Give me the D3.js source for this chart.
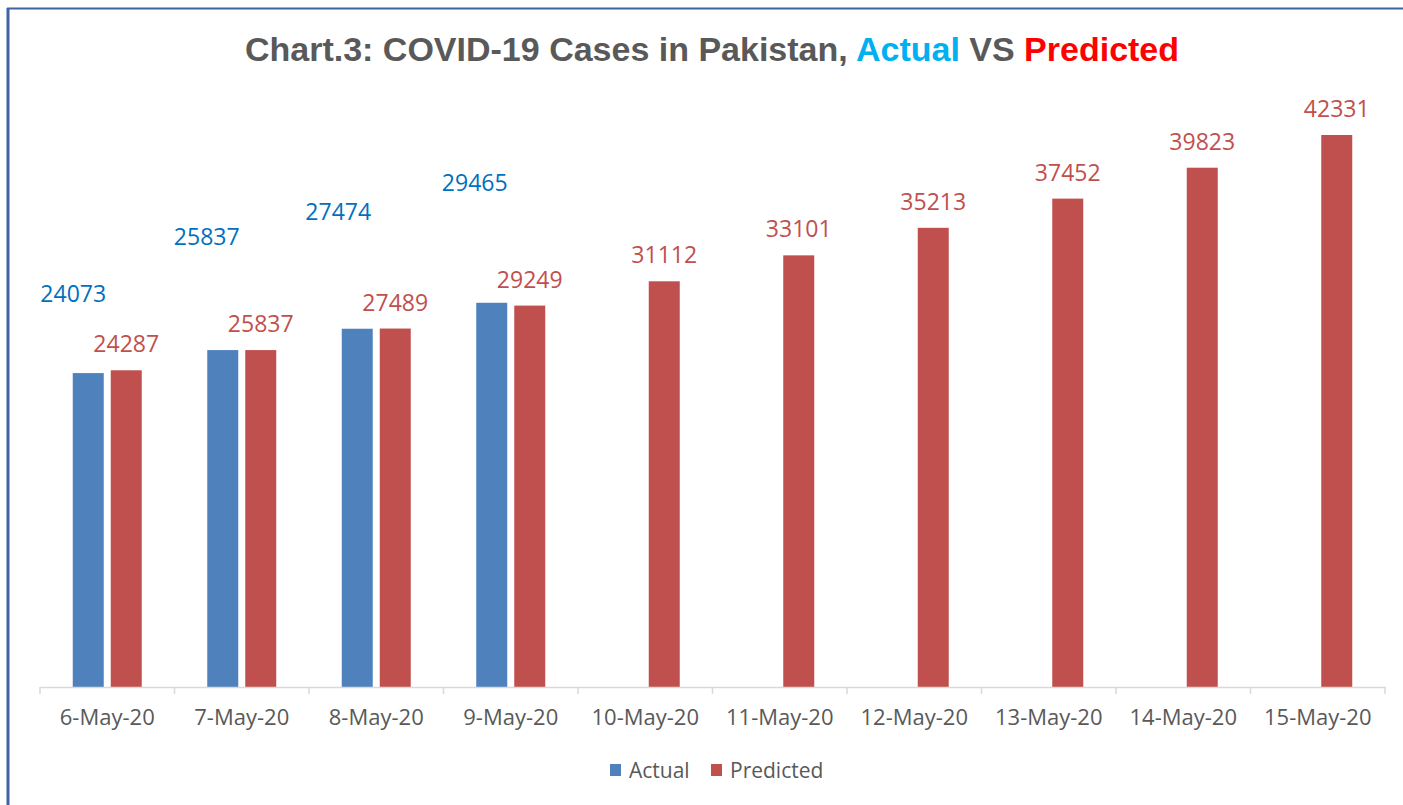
<!DOCTYPE html>
<html>
<head>
<meta charset="utf-8">
<script src="https://cdn.jsdelivr.net/npm/d3@7"></script>
<style>
  body { margin: 0; background: #fff; }
  svg { display: block; }
</style>
</head>
<body>
<script>
// data
var dates = ['6-May-20', '7-May-20', '8-May-20', '9-May-20', '10-May-20',
  '11-May-20', '12-May-20', '13-May-20', '14-May-20', '15-May-20'];
var actual = [24073, 25837, 27474, 29465, null, null, null, null, null, null];
var predicted = [24287, 25837, 27489, 29249, 31112, 33101, 35213, 37452, 39823, 42331];
var seriesNames = ['Actual', 'Predicted'];

// the actual labels were dragged around by hand in the original
var actualLabelNudge = [[-15, -53], [-16, -87], [-19, -91], [-17, -94]];

var W = 1403, H = 805;
var colors = { Actual: '#4F81BD', Predicted: '#C0504D' };
var labelColors = { Actual: '#0070C0', Predicted: '#C0504D' };
var font = '"Open Sans", sans-serif';

var svg = d3.select('body').append('svg')
  .attr('width', W).attr('height', H);

// frame
svg.append('line').attr('x1', 8).attr('x2', 8).attr('y1', 8).attr('y2', H)
  .attr('stroke', '#3F62A3').attr('stroke-width', 3);
svg.append('line').attr('x1', 7).attr('x2', W).attr('y1', 8.5).attr('y2', 8.5)
  .attr('stroke', '#3F62A3').attr('stroke-width', 2);

// title
var title = svg.append('text')
  .attr('x', 712).attr('y', 61)
  .attr('text-anchor', 'middle')
  .style('font-family', '"Liberation Sans", Arial, sans-serif')
  .style('font-weight', 'bold')
  .style('font-size', '34px')
  .attr('fill', '#595959');
title.append('tspan').text('Chart.3: COVID-19 Cases in Pakistan, ');
title.append('tspan').attr('fill', '#00B0F0').text('Actual');
title.append('tspan').text(' VS ');
title.append('tspan').attr('fill', '#FF0000').text('Predicted');

var x = d3.scaleBand().domain(dates).range([40, 1385]).paddingInner(0).paddingOuter(0);
var baseY = 687;
var y = d3.scaleLinear().domain([0, 42331]).range([baseY, 135]);

var barW = 31, barGap = 7;
var groupW = barW * 2 + barGap;
function barX(i, s) {
  return x(dates[i]) + (x.bandwidth() - groupW) / 2 + s * (barW + barGap);
}

var rows = dates.map(function(d, i) {
  return { i: i, vals: [actual[i], predicted[i]] };
});

var g = svg.append('g');
seriesNames.forEach(function(name, s) {
  var pts = rows.filter(function(r) { return r.vals[s] != null; });
  g.selectAll('.bar-' + name).data(pts).enter()
    .append('rect')
    .attr('x', function(r) { return barX(r.i, s); })
    .attr('y', function(r) { return y(r.vals[s]); })
    .attr('width', barW)
    .attr('height', function(r) { return baseY - y(r.vals[s]); })
    .attr('fill', colors[name]);

  g.selectAll('.lbl-' + name).data(pts).enter()
    .append('text')
    .attr('x', function(r) {
      var nx = s === 0 ? actualLabelNudge[r.i][0] : 0;
      return barX(r.i, s) + barW / 2 + nx;
    })
    .attr('y', function(r) {
      var ny = s === 0 ? actualLabelNudge[r.i][1] : 0;
      return y(r.vals[s]) - 18 + ny;
    })
    .attr('text-anchor', 'middle')
    .style('font-family', font)
    .style('font-size', '23px')
    .attr('fill', labelColors[name])
    .text(function(r) { return r.vals[s]; });
});

// x axis
var axis = d3.axisBottom(x).tickSize(0).tickPadding(22);
var ax = svg.append('g').attr('transform', 'translate(0,' + baseY + ')').call(axis);
ax.select('.domain').attr('stroke', '#D9D9D9').attr('stroke-width', 1.5);
ax.selectAll('text')
  .style('font-family', font)
  .style('font-size', '22px')
  .attr('fill', '#595959');
var edges = dates.map(function(d) { return x(d); }).concat([x.range()[1]]);
ax.selectAll('.edge').data(edges).enter()
  .append('line')
  .attr('x1', function(d) { return d; }).attr('x2', function(d) { return d; })
  .attr('y1', 0).attr('y2', 7)
  .attr('stroke', '#D9D9D9').attr('stroke-width', 1.5);

// legend
var legendX = [610, 711];
var leg = svg.append('g');
seriesNames.forEach(function(name, s) {
  leg.append('rect')
    .attr('x', legendX[s]).attr('y', 764)
    .attr('width', 11).attr('height', 12)
    .attr('fill', colors[name]);
  leg.append('text')
    .attr('x', legendX[s] + 19).attr('y', 778)
    .style('font-family', font)
    .style('font-size', '21px')
    .attr('fill', '#595959')
    .text(name);
});
</script>
</body>
</html>
